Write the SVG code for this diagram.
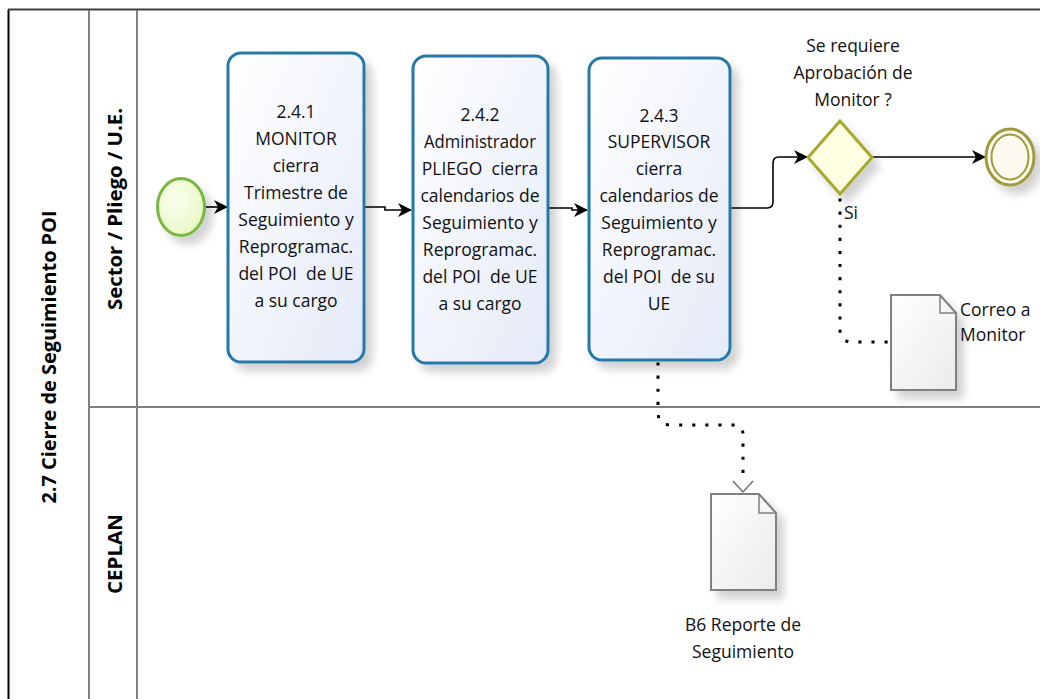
<svg xmlns="http://www.w3.org/2000/svg" width="1040" height="699" viewBox="0 0 1040 699">
<style>
.lane{stroke:#808080;stroke-width:2;fill:none}
.hdr{font-family:"Open Sans","Liberation Sans",sans-serif;font-weight:bold;font-size:20px;fill:#000}
.t{font-family:"Open Sans","Liberation Sans",sans-serif;font-size:17.5px;fill:#111;text-anchor:middle}
.tl{font-family:"Open Sans","Liberation Sans",sans-serif;font-size:17.5px;fill:#111}
.task{fill:url(#gTask);stroke:#2878a8;stroke-width:3}
.flow{fill:none;stroke:#000;stroke-width:1.6}
.assoc{fill:none;stroke:#000;stroke-width:3;stroke-dasharray:0.1 13;stroke-linecap:square}
.doc{fill:url(#gDoc);stroke:#808080;stroke-width:2}
</style>
<defs>
<linearGradient id="gTask" x1="0" y1="0" x2="1" y2="1">
<stop offset="0" stop-color="#ffffff"/><stop offset="1" stop-color="#e4eaf8"/>
</linearGradient>
<linearGradient id="gDoc" x1="0" y1="0" x2="1" y2="1">
<stop offset="0" stop-color="#ffffff"/><stop offset="1" stop-color="#ebebeb"/>
</linearGradient>
<radialGradient id="gStart" cx="0.4" cy="0.4" r="0.7">
<stop offset="0" stop-color="#fbfff0"/><stop offset="1" stop-color="#e6f7bf"/>
</radialGradient>
<filter id="sh" x="-20%" y="-20%" width="150%" height="150%">
<feGaussianBlur in="SourceAlpha" stdDeviation="4"/>
<feOffset dx="7" dy="8" result="b"/>
<feComponentTransfer><feFuncA type="linear" slope="0.18"/></feComponentTransfer>
<feMerge><feMergeNode/><feMergeNode in="SourceGraphic"/></feMerge>
</filter>
<marker id="arr" viewBox="0 0 14 14" refX="13" refY="7" markerWidth="14" markerHeight="14" markerUnits="userSpaceOnUse" orient="auto">
<path d="M0,0 L14,7 L0,14 L4,7 z" fill="#000"/>
</marker>
</defs>

<g id="pool">
<rect x="0" y="0" width="1040" height="699" fill="#ffffff"/>
<line x1="8.5" y1="9.5" x2="8.5" y2="699" stroke="#000" stroke-width="2"/>
<line x1="8" y1="9.5" x2="1040" y2="9.5" stroke="#404040" stroke-width="2"/>
<line class="lane" x1="89" y1="10" x2="89" y2="699"/>
<line class="lane" x1="137" y1="10" x2="137" y2="699"/>
<line class="lane" x1="89" y1="407" x2="1040" y2="407"/>
<text class="hdr" transform="translate(56,357) rotate(-90)" text-anchor="middle" textLength="293" lengthAdjust="spacingAndGlyphs">2.7 Cierre de Seguimiento POI</text>
<text class="hdr" transform="translate(122,209) rotate(-90)" text-anchor="middle" textLength="202" lengthAdjust="spacingAndGlyphs">Sector / Pliego / U.E.</text>
<text class="hdr" transform="translate(122,554) rotate(-90)" text-anchor="middle" textLength="80" lengthAdjust="spacingAndGlyphs">CEPLAN</text>
</g>

<g id="connectors">
<path class="flow" d="M204,207 H227" marker-end="url(#arr)"/>
<path class="flow" d="M364,207 H385 V210 H411" marker-end="url(#arr)"/>
<path class="flow" d="M548,208 H572 V210 H587" marker-end="url(#arr)"/>
<path class="flow" d="M730,208 H767 Q773,208 773,202 V163 Q773,157 779,157 H807" marker-end="url(#arr)"/>
<path class="flow" d="M872,157 H985" marker-end="url(#arr)"/>
<path class="assoc" d="M840,200 V330 Q840,342 852,342 H888"/>
<path class="assoc" d="M658,364 V412 Q658,425 671,425 H733 Q743,425 743,435 V478"/>
<path d="M733,481 L743,492 L753,481" fill="none" stroke="#707070" stroke-width="1.5"/>
</g>

<g id="start">
<ellipse cx="181" cy="207" rx="23.5" ry="28.5" fill="url(#gStart)" stroke="#78b843" stroke-width="3" filter="url(#sh)"/>
</g>

<g id="task1">
<rect class="task" x="228" y="53" width="136" height="309" rx="13" filter="url(#sh)"/>
<text class="t" x="296" y="118">2.4.1</text>
<text class="t" x="296" y="145">MONITOR</text>
<text class="t" x="296" y="172">cierra</text>
<text class="t" x="296" y="199">Trimestre de</text>
<text class="t" x="296" y="226">Seguimiento y</text>
<text class="t" x="296" y="253">Reprogramac.</text>
<text class="t" x="296" y="280">del POI&#160; de UE</text>
<text class="t" x="296" y="307">a su cargo</text>
</g>

<g id="task2">
<rect class="task" x="413" y="56" width="135" height="307" rx="13" filter="url(#sh)"/>
<text class="t" x="480" y="121">2.4.2</text>
<text class="t" x="480" y="148" textLength="112" lengthAdjust="spacingAndGlyphs">Administrador</text>
<text class="t" x="480" y="175">PLIEGO&#160; cierra</text>
<text class="t" x="480" y="202">calendarios de</text>
<text class="t" x="480" y="229">Seguimiento y</text>
<text class="t" x="480" y="256">Reprogramac.</text>
<text class="t" x="480" y="283">del POI&#160; de UE</text>
<text class="t" x="480" y="310">a su cargo</text>
</g>

<g id="task3">
<rect class="task" x="589" y="58" width="141" height="302" rx="13" filter="url(#sh)"/>
<text class="t" x="659" y="122">2.4.3</text>
<text class="t" x="659" y="148">SUPERVISOR</text>
<text class="t" x="659" y="175">cierra</text>
<text class="t" x="659" y="202">calendarios de</text>
<text class="t" x="659" y="229">Seguimiento y</text>
<text class="t" x="659" y="256">Reprogramac.</text>
<text class="t" x="659" y="283">del POI&#160; de su</text>
<text class="t" x="659" y="310">UE</text>
</g>

<g id="gateway">
<path d="M840,121 L872,157.5 L840,194 L808,157.5 z" fill="#fefee2" stroke="#a8a82a" stroke-width="3" filter="url(#sh)"/>
<text class="t" x="853" y="52">Se requiere</text>
<text class="t" x="853" y="79">Aprobación de</text>
<text class="t" x="853" y="106">Monitor ?</text>
<text class="tl" x="844" y="219">Si</text>
</g>

<g id="end">
<ellipse cx="1010" cy="157" rx="24" ry="28" fill="#fdfbf0" stroke="#a09a3c" stroke-width="3" filter="url(#sh)"/>
<ellipse cx="1010" cy="157" rx="18.5" ry="22.5" fill="none" stroke="#a09a3c" stroke-width="2"/>
</g>

<g id="doc-correo">
<path class="doc" d="M891,295 H940 L956,313 V390 H891 z" filter="url(#sh)"/>
<path d="M940,295 V313 H956" fill="none" stroke="#808080" stroke-width="1.5"/>
<text class="tl" x="960" y="316">Correo a</text>
<text class="tl" x="960" y="341">Monitor</text>
</g>

<g id="doc-b6">
<path class="doc" d="M711,494 H759 L776,513 V590 H711 z" filter="url(#sh)"/>
<path d="M759,494 V513 H776" fill="none" stroke="#808080" stroke-width="1.5"/>
<text class="t" x="743" y="631">B6 Reporte de</text>
<text class="t" x="743" y="658">Seguimiento</text>
</g>
</svg>
